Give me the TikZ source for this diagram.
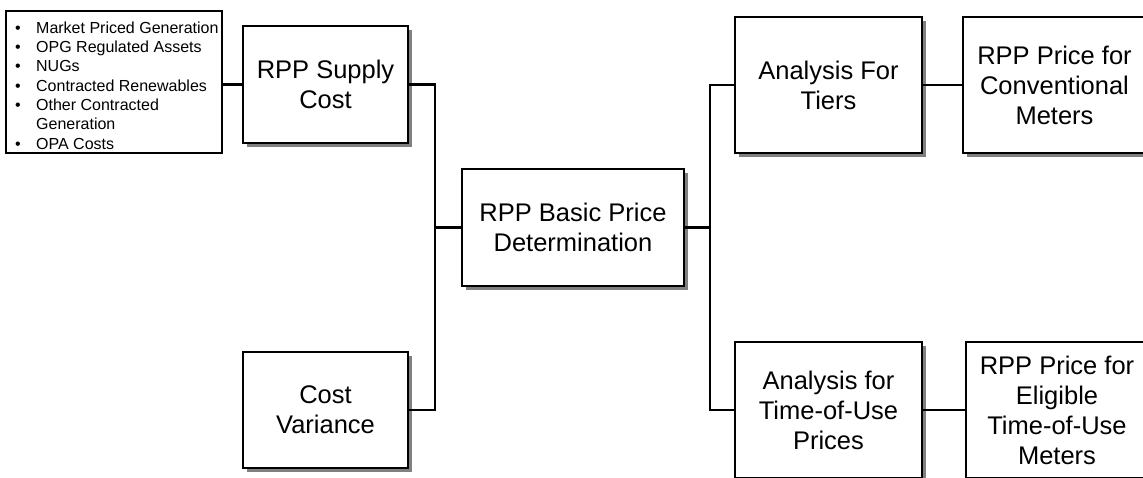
\documentclass[tikz,border=0pt]{standalone}
\usepackage{fontspec}
\setmainfont{Liberation Sans}
\usetikzlibrary{shadows}
\begin{document}
\begin{tikzpicture}[x=1pt,y=-1pt,
  box/.style={draw, line width=2.8pt, fill=white, inner sep=0pt, align=center,
    font=\fontsize{25.5}{30}\selectfont,
    drop shadow={shadow xshift=4pt, shadow yshift=-4pt, fill=black!50, opacity=1}},
  wire/.style={line width=2.1pt},
  item/.style={anchor=base west, inner sep=0pt, font=\fontsize{16}{19.4}\selectfont}]
\useasboundingbox (0,0) rectangle (1143,477);
\clip (0,0) rectangle (1143,477);
% bullet list box
\node[draw, line width=2.3pt, minimum width=216pt, minimum height=142pt, inner sep=0pt] (list) at (114,82) {};
\node[item] (l1) at (15,33)    {\makebox[21pt][l]{\textbullet}Market Priced Generation};
\node[item] (l2) at (15,52.3)  {\makebox[21pt][l]{\textbullet}OPG Regulated Assets};
\node[item] (l3) at (15,71.7)  {\makebox[21pt][l]{\textbullet}NUGs};
\node[item] (l4) at (15,91)    {\makebox[21pt][l]{\textbullet}Contracted Renewables};
\node[item] (l5) at (15,110.3) {\makebox[21pt][l]{\textbullet}Other Contracted};
\node[item] (l6) at (36,129.7) {Generation};
\node[item] (l7) at (15,149)   {\makebox[21pt][l]{\textbullet}OPA Costs};
% boxes
\node[box, minimum width=165pt, minimum height=117pt] (supply) at (325.5,84.5) {RPP Supply\\Cost};
\node[box, minimum width=165pt, minimum height=116pt] (variance) at (325.5,410) {Cost\\Variance};
\node[box, minimum width=222pt, minimum height=117pt] (basic) at (573,227.5) {RPP Basic Price\\Determination};
\node[box, minimum width=187pt, minimum height=136pt] (tiers) at (828.5,85) {Analysis For\\Tiers};
\node[box, minimum width=187pt, minimum height=136pt] (tou) at (828.5,410) {Analysis for\\Time-of-Use\\Prices};
\node[box, minimum width=183pt, minimum height=136pt] (conv) at (1054.5,85) {RPP Price for\\Conventional\\Meters};
\node[box, minimum width=182pt, minimum height=136pt] (elig) at (1057,410) {RPP Price for\\Eligible\\Time-of-Use\\Meters};
% junctions
\coordinate (jl) at (435,227.5);
\coordinate (jr) at (710,227.5);
% connectors
\draw[wire] (supply.west -| list.east) -- (supply.west);
\draw[wire] (supply.east) -- (supply.east -| jl) -- (variance.east -| jl) -- (variance.east);
\draw[wire] (jl) -- (basic.west);
\draw[wire] (basic.east) -- (jr);
\draw[wire] (tiers.west) -- (tiers.west -| jr) -- (tou.west -| jr) -- (tou.west);
\draw[wire] (tiers.east) -- (conv.west);
\draw[wire] (tou.east) -- (elig.west);
\end{tikzpicture}
\end{document}
